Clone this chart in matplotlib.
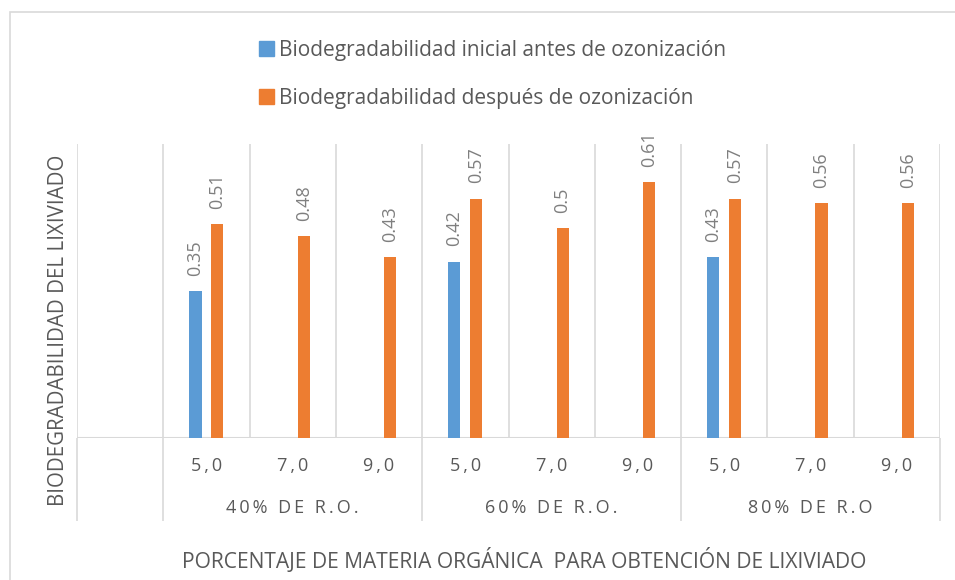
import numpy as np
import matplotlib
matplotlib.use("Agg")
import matplotlib.pyplot as plt
from matplotlib.patches import Patch, Rectangle

plt.rcParams['font.family'] = ['Open Sans', 'DejaVu Sans']

# datos
subcats = ['', '5,0', '7,0', '9,0', '5,0', '7,0', '9,0', '5,0', '7,0', '9,0']
grupos = ['40% DE R.O.', '60% DE R.O.', '80% DE R.O']
inicial = [np.nan, 0.35, np.nan, np.nan, 0.42, np.nan, np.nan, 0.43, np.nan, np.nan]
despues = [np.nan, 0.51, 0.48, 0.43, 0.57, 0.50, 0.61, 0.57, 0.56, 0.56]
serie_names = ['Biodegradabilidad inicial antes de ozonización',
               'Biodegradabilidad después de ozonización']

azul = '#5B9BD5'
naranja = '#ED7D31'
gris_linea = '#D9D9D9'
gris_texto = '#595959'
gris_label = '#7F7F7F'

W, H = 955, 580
fig = plt.figure(figsize=(W / 100, H / 100), dpi=100)
ax = fig.add_axes([77 / W, 1 - 438 / H, (940 - 77) / W, (438 - 144) / H])

# marco exterior
fig.patches.append(Rectangle((10 / W, -0.5), 2, 1.5 - 12 / H, transform=fig.transFigure,
                             fill=False, edgecolor=gris_linea, lw=1.2))


def espaciado(s):
    # imita el espaciado entre letras de Excel
    return '\u2009'.join(s)


x = np.arange(len(subcats))
ymax = 0.7
ancho = 0.14
off = 0.127

ini = np.array(inicial)
des = np.array(despues)
m1 = ~np.isnan(ini)
m2 = ~np.isnan(des)
ax.bar(x[m1] - off, ini[m1], ancho, color=azul, zorder=3)
ax.bar(x[m2] + off, des[m2], ancho, color=naranja, zorder=3)

for xi, v in zip(x[m1] - off, ini[m1]):
    ax.annotate(f'{v:g}', (xi, v), xytext=(0, 11), textcoords='offset points',
                rotation=90, ha='center', va='bottom', fontsize=13, color=gris_label)
for xi, v in zip(x[m2] + off, des[m2]):
    ax.annotate(f'{v:g}', (xi, v), xytext=(0, 11), textcoords='offset points',
                rotation=90, ha='center', va='bottom', fontsize=13, color=gris_label)

ax.set_xlim(-0.5, len(subcats) - 0.5)
ax.set_ylim(0, ymax)
for s in ax.spines.values():
    s.set_visible(False)
ax.set_yticks([])

# lineas de categoria
bordes = np.arange(len(subcats) + 1) - 0.5
ax.vlines(bordes, 0, ymax, color=gris_linea, lw=1.2, zorder=1)
ax.axhline(0, color=gris_linea, lw=1.5, zorder=2)
bajo = -(521 - 438) / (438 - 144)
ax.vlines([-0.5, 0.5, 3.5, 6.5, 9.5], bajo, 0, color=gris_linea, lw=1.2,
          transform=ax.get_xaxis_transform(), clip_on=False)

ax.set_xticks(x, [espaciado(s) for s in subcats], fontsize=13, color=gris_texto)
ax.tick_params(axis='x', length=0, pad=14)

for i, g in enumerate(grupos):
    ax.text(2 + 3 * i, (438 - 508) / (438 - 144), espaciado(g), transform=ax.get_xaxis_transform(),
            ha='center', va='center', fontsize=13, color=gris_texto)

fig.text(59 / W, 1 - 330 / H, 'BIODEGRADABILIDAD DEL LIXIVIADO', rotation=90,
         ha='center', va='center', fontsize=14.8, color=gris_texto)
fig.text(524 / W, 1 - 560 / H, 'PORCENTAJE DE MATERIA ORGÁNICA  PARA OBTENCIÓN DE LIXIVIADO',
         ha='center', va='center', fontsize=15.1, color=gris_texto)

handles = [Patch(color=azul), Patch(color=naranja)]
fig.legend(handles, serie_names, loc='upper left', bbox_to_anchor=(259 / W, 1 - 40 / H),
           frameon=False, fontsize=15, handlelength=0.7, handleheight=0.7,
           handletextpad=0.25, labelspacing=1.3, borderpad=0, borderaxespad=0,
           labelcolor=gris_texto)

fig.savefig('out.png', dpi=100)
